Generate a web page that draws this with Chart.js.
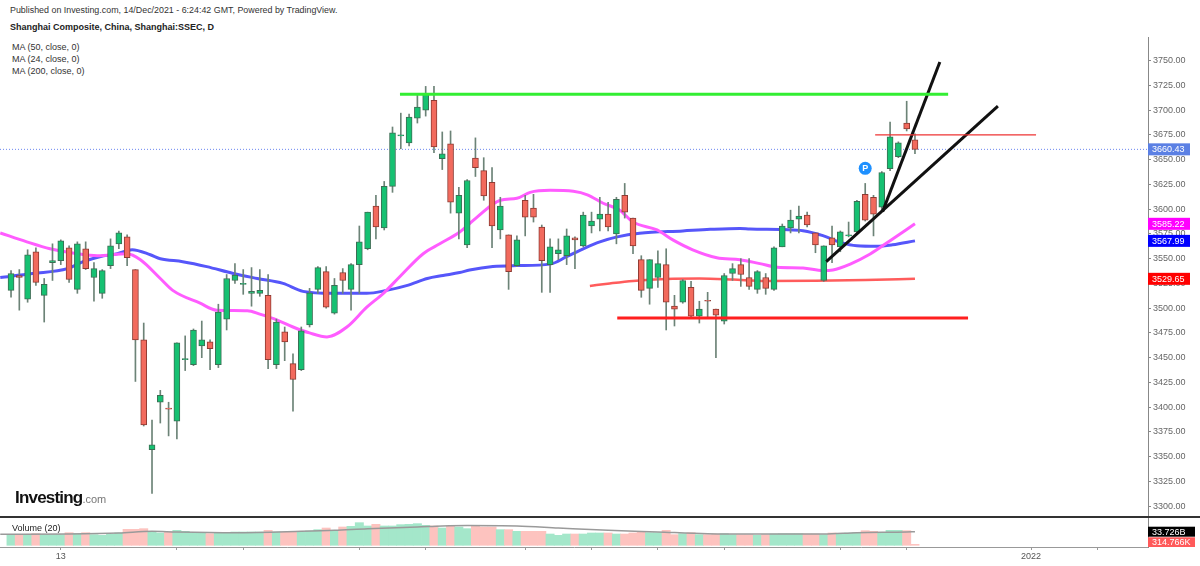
<!DOCTYPE html>
<html>
<head>
<meta charset="utf-8">
<title>Shanghai Composite</title>
<script src="https://cdn.jsdelivr.net/npm/chart.js@4.4.0/dist/chart.umd.min.js"></script>
<style>
    html, body { margin: 0; padding: 0; background: #fff; }
    body { width: 1200px; height: 566px; position: relative; overflow: hidden;
           font-family: Arial, "Liberation Sans", sans-serif; color: #222; }
    .txt { position: absolute; white-space: nowrap; font-size: 9px; line-height: 10px; }
    #published { left: 10px; top: 5px; color: #333; font-size: 8.9px; }
    #title { left: 10px; top: 22px; font-weight: bold; }
    .ma { left: 12px; color: #333; }
    #priceBox { position: absolute; left: 0; top: 37px; }
    #sep { position: absolute; left: 0; top: 516px; width: 1200px; height: 2px; background: #333; }
    #volBox { position: absolute; left: 0; top: 518px; }
    #volLabel { left: 12px; top: 523px; }
    #logo { position: absolute; left: 15px; top: 488px; line-height: 20px; white-space: nowrap; }
    #logo b { font-size: 17px; letter-spacing: -0.8px; color: #111; }
    #logo span { font-size: 11px; color: #777; }
</style>
</head>
<body>
<div class="txt" id="published">Published on Investing.com, 14/Dec/2021 - 6:24:42 GMT, Powered by TradingView.</div>
<div class="txt" id="title">Shanghai Composite, China, Shanghai:SSEC, D</div>
<div class="txt ma" style="top:42px">MA (50, close, 0)</div>
<div class="txt ma" style="top:54px">MA (24, close, 0)</div>
<div class="txt ma" style="top:66px">MA (200, close, 0)</div>

<div id="priceBox"><canvas id="priceChart" width="1200" height="479"></canvas></div>
<div id="logo"><b>Investing</b><span>.com</span></div>
<div id="sep"></div>
<div id="volBox"><canvas id="volumeChart" width="1200" height="48"></canvas></div>
<div class="txt" id="volLabel">Volume (20)</div>

<script>
// daily candles, Jul 2021 - 14 Dec 2021 (index 0 = first bar)
const openPrices = [
    3518, 3533, 3509, 3557, 3513, 3546, 3548, 3561, 3519, 3560,
    3531, 3515, 3543, 3565, 3572, 3539, 3468, 3357, 3405, 3399,
    3386, 3448, 3443, 3462, 3466, 3443, 3489, 3528, 3524, 3515,
    3515, 3513, 3443, 3476, 3444, 3438, 3483, 3519, 3537, 3495,
    3536, 3519, 3544, 3560, 3603, 3581, 3623, 3674, 3667, 3692,
    3700, 3710, 3651, 3666, 3596, 3564, 3651.5, 3639, 3627, 3579,
    3574, 3543, 3609, 3601, 3582, 3544, 3555, 3553, 3571, 3563,
    3583, 3590, 3595, 3575, 3614, 3591, 3549, 3520, 3531, 3544,
    3502, 3506, 3521, 3492, 3508, 3499, 3487, 3535, 3544, 3531,
    3519, 3531, 3519, 3562, 3581, 3590, 3594, 3576, 3528, 3571,
    3562, 3573, 3577, 3615, 3612, 3602, 3641, 3653, 3687, 3670
];
const highPrices = [
    3538, 3539, 3559, 3561, 3530, 3565, 3569, 3563, 3567, 3567,
    3546, 3539, 3570, 3578, 3574, 3539, 3485, 3387, 3417, 3405,
    3465, 3472, 3479, 3487, 3468, 3504, 3534, 3545, 3539, 3541,
    3539, 3534, 3489, 3481, 3454, 3481, 3520, 3542, 3542, 3530,
    3540, 3545, 3583, 3597, 3614, 3628, 3683, 3697, 3696, 3717,
    3724, 3724, 3678, 3679, 3622, 3630, 3672, 3652, 3642, 3612,
    3574, 3573, 3614, 3615, 3584, 3570, 3570, 3580, 3572, 3597,
    3597, 3612, 3607, 3612, 3626, 3591, 3553, 3549, 3558, 3560,
    3513, 3529, 3527, 3507, 3516, 3499, 3535, 3545, 3550, 3550,
    3538, 3535, 3562, 3585, 3599, 3603, 3597, 3576, 3563, 3583,
    3578, 3587, 3609, 3626, 3614, 3638, 3688, 3668, 3709, 3676
];
const lowPrices = [
    3511, 3498, 3506, 3523, 3486, 3528, 3544, 3526, 3515, 3539,
    3507, 3510, 3540, 3560, 3543, 3426, 3381, 3313, 3384, 3371,
    3368, 3437, 3442, 3450, 3438, 3440, 3478, 3525, 3514, 3502,
    3512, 3439, 3439, 3447, 3396, 3437, 3481, 3515, 3500, 3494,
    3515, 3498, 3515, 3559, 3570, 3579, 3617, 3661, 3664, 3687,
    3694, 3657, 3640, 3596, 3570, 3561, 3633, 3609, 3561, 3570,
    3519, 3542, 3573, 3587, 3516, 3516, 3549, 3544, 3540, 3562,
    3576, 3578, 3578, 3565, 3591, 3555, 3511, 3504, 3521, 3478,
    3482, 3505, 3490, 3485, 3491, 3450, 3484, 3528, 3522, 3519,
    3515, 3514, 3518, 3562, 3576, 3576, 3582, 3556, 3527, 3546,
    3557, 3572, 3576, 3588, 3573, 3599, 3639, 3652, 3679, 3656
];
const closePrices = [
    3535, 3531, 3554, 3526, 3524, 3548, 3568, 3529, 3565, 3540,
    3540, 3538, 3563, 3576, 3551, 3468, 3382, 3362, 3412, 3398,
    3465, 3449, 3478, 3468, 3459, 3496, 3530, 3533.5, 3525, 3517,
    3518, 3448, 3486, 3466, 3428, 3477, 3515.5, 3541, 3501, 3523,
    3528, 3544, 3567, 3597, 3582, 3623, 3677, 3675, 3693, 3703,
    3716, 3663, 3656, 3607, 3614, 3629, 3642, 3613.5, 3583, 3603,
    3537, 3569, 3592, 3592, 3548, 3562, 3559, 3573, 3569, 3594,
    3588, 3595, 3582, 3610, 3597, 3563, 3518, 3549, 3545, 3506,
    3499, 3528, 3492, 3499, 3507, 3493, 3533, 3540, 3534, 3522,
    3537, 3520, 3561, 3583, 3589, 3593, 3584, 3564, 3563, 3564,
    3577, 3574, 3608, 3589, 3595, 3637, 3673, 3667, 3681, 3660.43
];
// volume in billions
const volumes = [
    26.4, 26.4, 26.4, 28.9, 26.4, 26.4, 26.4, 31.3, 28.9, 31.3,
    26.4, 24.7, 27.2, 30.5, 39.6, 39.6, 41.3, 34.6, 30.5, 33.0,
    37.1, 34.6, 30.5, 30.5, 28.9, 30.5, 30.5, 33.0, 33.0, 33.0,
    33.0, 37.1, 33.0, 33.0, 33.0, 33.0, 35.5, 38.8, 42.9, 37.1,
    45.4, 47.0, 56.1, 47.9, 52.0, 47.9, 47.9, 51.2, 52.0, 53.7,
    49.5, 47.9, 42.9, 47.9, 45.4, 41.3, 47.0, 45.4, 45.4, 38.8,
    38.8, 34.6, 34.6, 34.6, 34.6, 28.0, 24.7, 28.0, 28.0, 28.0,
    30.5, 30.5, 30.5, 28.0, 28.0, 30.5, 33.0, 31.3, 31.3, 37.1,
    26.4, 28.9, 31.3, 26.4, 26.4, 28.0, 28.9, 26.4, 26.4, 26.4,
    24.7, 26.4, 28.0, 28.9, 28.9, 28.9, 28.0, 28.0, 26.4, 30.5,
    28.0, 30.5, 31.3, 36.3, 34.6, 30.5, 37.1, 37.1, 36.3, 0.000315
];

// moving averages (bar index -> value)
const ma50Index = [-1.3, 2.6, 6.8, 8.7, 10.7, 12.8, 14.6, 16.8, 18, 20.7, 23.6, 26.8, 29.7, 32.8, 35.2,
    38.8, 42.9, 45.3, 47.8, 50.2, 52.1, 54.1, 55.3, 58.1, 61, 65, 67, 69, 71, 73.1, 75.8, 81, 84.3,
    87.9, 89.1, 93.1, 95.5, 97.9, 100, 102, 104.4, 106.3, 109];
const ma50Values = [3531, 3535, 3540, 3547, 3552, 3555, 3559, 3554, 3550, 3547, 3542, 3535, 3530, 3525, 3517,
    3515, 3515, 3518, 3523, 3530, 3533, 3536, 3538.5, 3542, 3543, 3544.5, 3552, 3560, 3567, 3572, 3575.6, 3578, 3579.6,
    3580.6, 3580, 3579.4, 3578.3, 3573.3, 3566.5, 3563, 3562.5, 3564, 3567.99];
const ma24Index = [-1.3, 1.9, 4.7, 8, 10.4, 14, 15.6, 18, 19.5, 22.8, 24.8, 28.5, 30, 32.1, 34, 36, 38.1,
    40.5, 42.9, 44.9, 46.9, 49.7, 51.7, 54.1, 56.2, 59, 61, 62.6, 65, 67.8, 69.5, 71.4, 73.4, 75, 77.9,
    79.8, 82.2, 85.1, 87.9, 90.3, 92.4, 95.5, 97.9, 99.1, 101.2, 103.6, 106, 109];
const ma24Values = [3576, 3567, 3560, 3555, 3553, 3555, 3549, 3530, 3518, 3505, 3498, 3497.5, 3494, 3488, 3481, 3475, 3471,
    3481, 3501, 3515, 3532, 3555, 3565, 3577, 3592, 3609, 3611, 3617, 3619, 3618, 3614.5, 3606, 3599, 3587, 3579,
    3569, 3559, 3551, 3549, 3545, 3541.3, 3540.6, 3538, 3538.6, 3544.6, 3554.7, 3568.2, 3585.22];
const ma200Index = [69.8, 72.2, 75, 79, 83, 87, 91, 97, 103, 109];
const ma200Values = [3522.5, 3525, 3527.5, 3529.5, 3530, 3529, 3527.5, 3527.8, 3528.5, 3529.65];

const volMaIndex = [-1.3, 7, 13, 17, 20, 27, 35, 39, 43, 49, 52, 55, 61, 66, 72, 78, 84, 90, 98, 102, 108, 109];
const volMaValues = [27.2, 28.0, 30.5, 34.6, 33.0, 31.3, 34.6, 37.1, 41.3, 45.4, 47.9, 49.0, 47.9, 42.9, 37.1,
    33.0, 28.9, 28.0, 28.0, 31.3, 33.0, 33.726];

// hand-drawn studies: [barIndex, price]
const resistanceLine = [[46.9, 3716], [113.0, 3716]];
const supportLine = [[73.1, 3490], [115.4, 3490]];
const shortResistLine = [[104.2, 3675], [123.6, 3675]];
const trendLineA = [[98.3, 3547], [119.0, 3704]];
const trendLineB = [[105.1, 3597.5], [112.0, 3748.7]];
const pivotMark = [103.0, 3641.3];

// axes
const xMin = -1.33, xMax = 137.1;
const priceMin = 3290.1, priceMax = 3773.9;
const priceTicks = [3300, 3325, 3350, 3375, 3400, 3425, 3450, 3475, 3500, 3525, 3550, 3575,
    3600, 3625, 3650, 3675, 3700, 3725, 3750];
const volMin = -4.2, volMax = 67.7;
const dateTickIndex = [6, 20, 28, 42, 50, 62, 70, 78, 86, 100, 108, 123, 131];
const dateTickText = ['13', '', '', '', '', '', '', '', '', '', '', '2022', ''];

const FONT = 'Arial, "Liberation Sans", sans-serif';
Chart.defaults.font.family = FONT;

class SsecChart {
    constructor() {
        this.bars = closePrices.map((_, i) => i);
        this.isUp = closePrices.map((c, i) => c >= openPrices[i]);
        this.initializePriceChart();
        this.initializeVolumeChart();
    }

    toPoints(xs, ys) {
        return xs.map((x, i) => ({ x, y: ys[i] }));
    }

    segment(pair) {
        return pair.map(p => ({ x: p[0], y: p[1] }));
    }

    drawingSet(pair, color, width) {
        return {
            type: 'line', data: this.segment(pair), borderColor: color, borderWidth: width,
            pointRadius: 0, order: 0
        };
    }

    initializePriceChart() {
        const lastPrice = closePrices[closePrices.length - 1];
        const tags = [
            { value: lastPrice, bg: '#5b80e4' },
            { value: ma24Values[ma24Values.length - 1], bg: '#ff00ff' },
            { value: ma50Values[ma50Values.length - 1], bg: '#0000ff' },
            { value: ma200Values[ma200Values.length - 1], bg: '#ff0000' }
        ];

        // 右侧价格标签 + P 标记
        const tagPlugin = {
            id: 'priceTags',
            afterDraw(chart) {
                const { ctx, scales: { x, y } } = chart;
                ctx.save();
                ctx.font = '9px ' + FONT;
                ctx.textBaseline = 'middle';
                tags.forEach(t => {
                    const py = y.getPixelForValue(t.value);
                    ctx.fillStyle = t.bg;
                    ctx.fillRect(y.left, py - 6, 42, 12);
                    ctx.fillStyle = '#fff';
                    ctx.fillText(t.value.toFixed(2), y.left + 4, py + 0.5);
                });
                ctx.font = 'bold 9px ' + FONT;
                ctx.textAlign = 'center';
                ctx.fillStyle = '#fff';
                ctx.fillText('P', x.getPixelForValue(pivotMark[0]), y.getPixelForValue(pivotMark[1]) + 0.5);
                ctx.restore();
            }
        };

        this.priceChart = new Chart(document.getElementById('priceChart'), {
            type: 'bar',
            data: {
                datasets: [
                    {
                        type: 'line', data: [{ x: xMin, y: lastPrice }, { x: xMax, y: lastPrice }],
                        borderColor: '#6b86f0', borderWidth: 1, borderDash: [1, 2], pointRadius: 0, order: 6
                    },
                    {
                        type: 'line', label: 'MA 200', data: this.toPoints(ma200Index, ma200Values),
                        borderColor: '#ff5c5c', borderWidth: 2.5, pointRadius: 0,
                        cubicInterpolationMode: 'monotone', order: 5
                    },
                    {
                        type: 'line', label: 'MA 50', data: this.toPoints(ma50Index, ma50Values),
                        borderColor: '#5656fa', borderWidth: 3, pointRadius: 0,
                        cubicInterpolationMode: 'monotone', order: 4
                    },
                    {
                        type: 'line', label: 'MA 24', data: this.toPoints(ma24Index, ma24Values),
                        borderColor: '#ff5cff', borderWidth: 3, pointRadius: 0,
                        cubicInterpolationMode: 'monotone', order: 3
                    },
                    {
                        label: 'wick', data: this.bars.map(i => ({ x: i, y: [lowPrices[i], highPrices[i]] })),
                        backgroundColor: '#6c8377', barThickness: 1, grouped: false, order: 2
                    },
                    {
                        label: 'body', data: this.bars.map(i => ({ x: i, y: [openPrices[i], closePrices[i]] })),
                        backgroundColor: this.isUp.map(u => u ? '#16c172' : '#f26a5d'),
                        borderColor: this.isUp.map(u => u ? '#3b6e54' : '#8e3b33'),
                        borderWidth: 1, borderSkipped: false, barThickness: 6, grouped: false, order: 1
                    },
                    this.drawingSet(resistanceLine, '#33ee33', 3),
                    this.drawingSet(supportLine, '#ff1f1f', 3),
                    this.drawingSet(shortResistLine, '#ee3333', 1.3),
                    this.drawingSet(trendLineA, '#111111', 3),
                    this.drawingSet(trendLineB, '#111111', 3),
                    {
                        type: 'line', data: [{ x: pivotMark[0], y: pivotMark[1] }], showLine: false,
                        pointRadius: 6.5, pointHoverRadius: 0, pointBackgroundColor: '#1e90ff',
                        pointBorderWidth: 0, order: 0
                    }
                ]
            },
            options: {
                responsive: false,
                devicePixelRatio: 1,
                animation: false,
                events: [],
                layout: { padding: 0, autoPadding: false },
                plugins: { legend: { display: false }, tooltip: { enabled: false } },
                scales: {
                    x: { type: 'linear', min: xMin, max: xMax, offset: false, display: false },
                    y: {
                        position: 'right', min: priceMin, max: priceMax,
                        afterBuildTicks: s => { s.ticks = priceTicks.map(v => ({ value: v })); },
                        afterFit: s => { s.width = 52; s.paddingTop = 0; s.paddingBottom = 0; },
                        ticks: { callback: v => v.toFixed(2), color: '#666', font: { size: 9 }, padding: 2 },
                        grid: { drawOnChartArea: false, tickLength: 3, color: '#888' },
                        border: { color: '#888' }
                    }
                }
            },
            plugins: [tagPlugin]
        });
    }

    initializeVolumeChart() {
        const volTags = [
            { value: volMaValues[volMaValues.length - 1], text: '33.726B', bg: '#000' },
            { value: volumes[volumes.length - 1], text: '314.766K', bg: '#ff5a5a' }
        ];

        const volTagPlugin = {
            id: 'volTags',
            afterDraw(chart) {
                const { ctx, chartArea, scales: { y } } = chart;
                ctx.save();
                ctx.beginPath();
                ctx.rect(0, chartArea.top, chart.width, chartArea.bottom - chartArea.top);
                ctx.clip();
                ctx.font = '9px ' + FONT;
                ctx.textBaseline = 'middle';
                volTags.forEach((t, k) => {
                    const py = y.getPixelForValue(t.value) - (k ? 3 : 0);
                    ctx.fillStyle = t.bg;
                    ctx.fillRect(y.left, py - 5, 47, 10);
                    ctx.fillStyle = '#fff';
                    ctx.fillText(t.text, y.left + 4, py + 0.5);
                });
                ctx.restore();
            }
        };

        this.volumeChart = new Chart(document.getElementById('volumeChart'), {
            type: 'bar',
            data: {
                datasets: [
                    {
                        type: 'line', data: this.toPoints(volMaIndex, volMaValues),
                        borderColor: '#9a9a9a', borderWidth: 1.5, pointRadius: 0,
                        cubicInterpolationMode: 'monotone', order: 0
                    },
                    {
                        data: this.bars.map(i => ({ x: i, y: volumes[i] })),
                        backgroundColor: this.isUp.map(u => u ? '#a4e7ca' : '#fdc3bf'),
                        barPercentage: 1, categoryPercentage: 1, minBarLength: 1, order: 1
                    }
                ]
            },
            options: {
                responsive: false,
                devicePixelRatio: 1,
                animation: false,
                events: [],
                layout: { padding: 0, autoPadding: false },
                plugins: { legend: { display: false }, tooltip: { enabled: false } },
                scales: {
                    x: {
                        type: 'linear', min: xMin, max: xMax, offset: false, position: 'bottom',
                        afterBuildTicks: s => { s.ticks = dateTickIndex.map(v => ({ value: v })); },
                        afterFit: s => { s.height = 19; s.paddingLeft = 0; s.paddingRight = 0; },
                        ticks: {
                            callback: v => dateTickText[dateTickIndex.indexOf(v)],
                            autoSkip: false, maxRotation: 0, color: '#555', font: { size: 9 }, padding: 1
                        },
                        grid: { drawOnChartArea: false, offset: false, tickLength: 3, color: '#999' },
                        border: { color: '#999' }
                    },
                    y: {
                        position: 'right', min: volMin, max: volMax,
                        afterFit: s => { s.width = 52; s.paddingTop = 0; s.paddingBottom = 0; },
                        ticks: { display: false },
                        grid: { drawOnChartArea: false, drawTicks: false },
                        border: { color: '#888' }
                    }
                }
            },
            plugins: [volTagPlugin]
        });
    }
}

document.addEventListener('DOMContentLoaded', () => {
    window.ssecChart = new SsecChart();
});
</script>
</body>
</html>
